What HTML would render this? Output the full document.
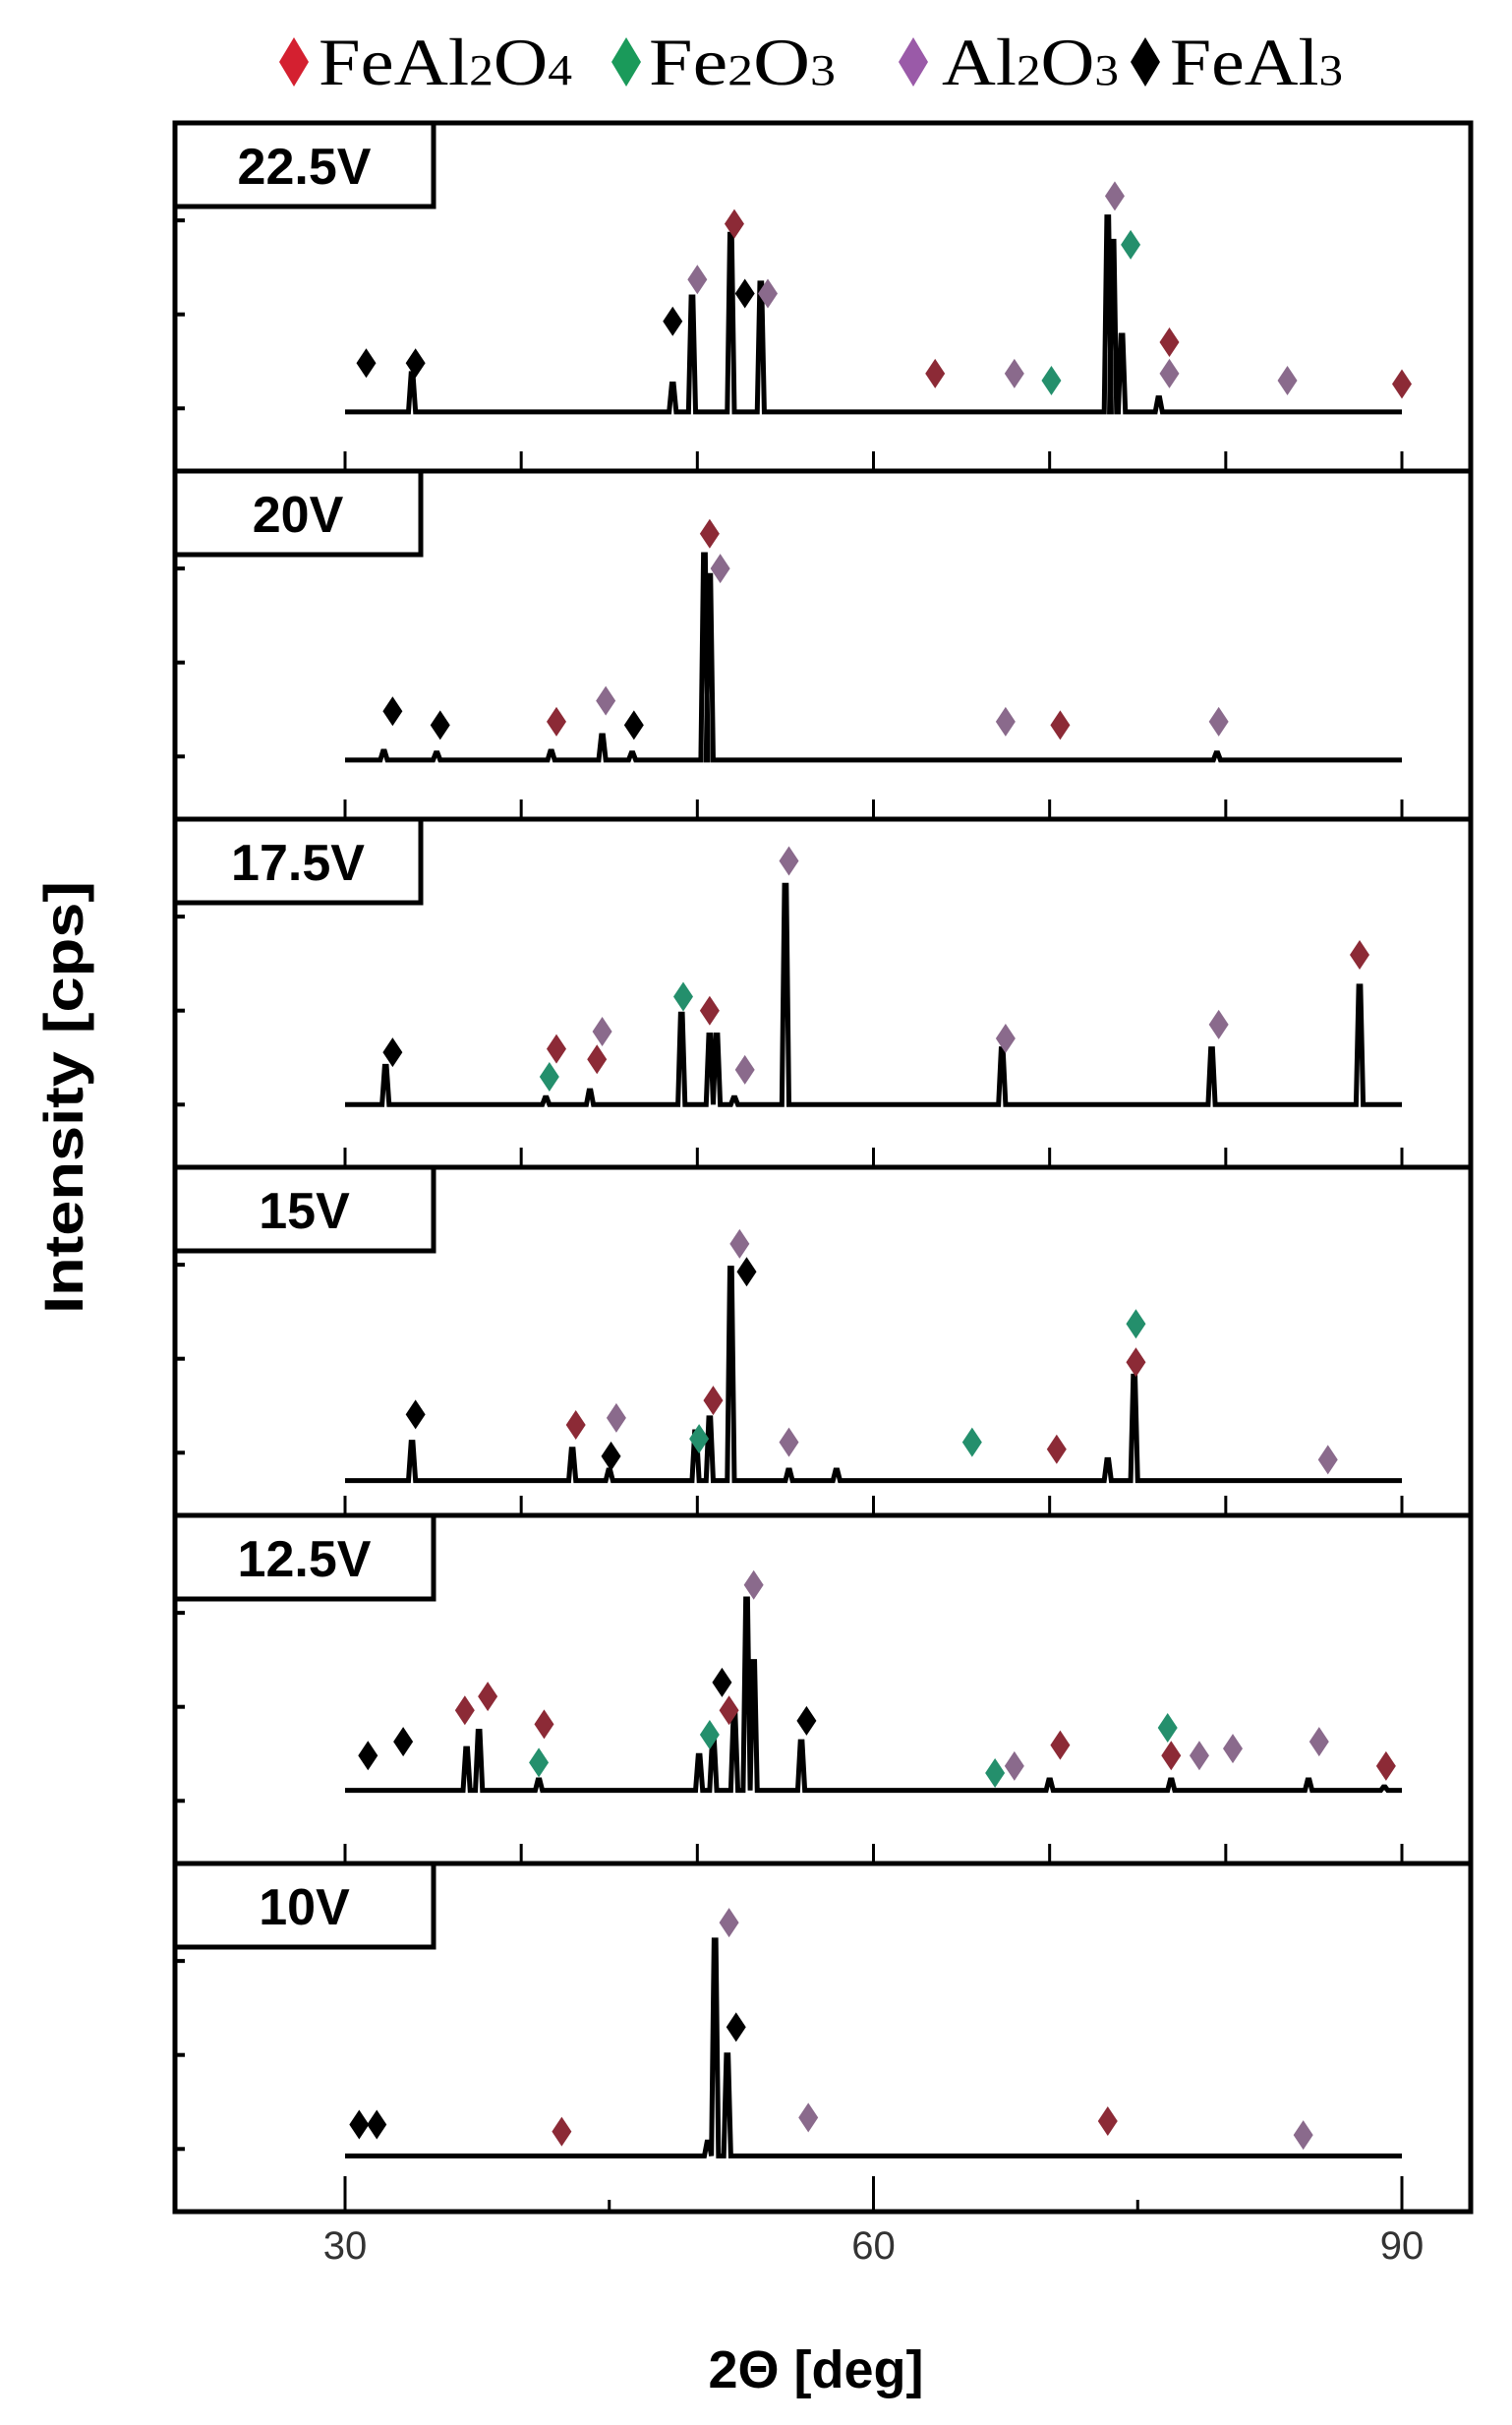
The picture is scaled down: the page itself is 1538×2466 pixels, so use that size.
<!DOCTYPE html>
<html><head><meta charset="utf-8"><style>
html,body{margin:0;padding:0;background:#fff;}
svg{display:block;}
</style></head><body>
<svg id="chart" width="1538" height="2466" viewBox="0 0 1538 2466" xmlns="http://www.w3.org/2000/svg">
<g id="legend" font-family="'Liberation Serif', serif" font-size="68">
  <g><path d="M299 38 L314 63 L299 88 L284 63 Z" fill="#d42030"/><text x="324" y="86" textLength="258" lengthAdjust="spacingAndGlyphs">FeAl<tspan font-size="44">2</tspan>O<tspan font-size="44">4</tspan></text></g>
  <g><path d="M637 38 L652 63 L637 88 L622 63 Z" fill="#1a9a5a"/><text x="660" y="86" textLength="190" lengthAdjust="spacingAndGlyphs">Fe<tspan font-size="44">2</tspan>O<tspan font-size="44">3</tspan></text></g>
  <g><path d="M929 38 L944 63 L929 88 L914 63 Z" fill="#9a5aa8"/><text x="958" y="86" textLength="180" lengthAdjust="spacingAndGlyphs">Al<tspan font-size="44">2</tspan>O<tspan font-size="44">3</tspan></text></g>
  <g><path d="M1165 38 L1180 63 L1165 88 L1150 63 Z" fill="#000"/><text x="1190" y="86" textLength="176" lengthAdjust="spacingAndGlyphs">FeAl<tspan font-size="44">3</tspan></text></g>
</g>
<text transform="translate(84,1116) rotate(-90)" text-anchor="middle" font-family="'Liberation Sans', sans-serif" font-weight="bold" font-size="56" textLength="440" lengthAdjust="spacingAndGlyphs">Intensity [cps]</text>
<text x="830" y="2428" text-anchor="middle" font-family="'Liberation Sans', sans-serif" font-weight="bold" font-size="54">2Θ [deg]</text>
<g id="panels"></g>
</svg>
<script>
const panelLabels = ["22.5V","20V","17.5V","15V","12.5V","10V"];
const baselines = [17,17,18,10,21,16];
// peaks: [2theta, intensity % of panel height]
const peaks225 = [[33.8,28],[48.6,25],[49.7,50],[51.9,68],[53.6,54],[73.3,73],[73.6,66],[74.1,39],[76.2,21]];
const peaks20 = [[32.2,19.5],[35.2,19],[41.7,19.5],[44.6,24],[46.3,19],[50.4,76],[50.7,70],[79.5,19]];
const peaks175 = [[32.3,29],[41.4,20],[43.9,22],[49.1,44],[50.7,38],[51.1,38],[52.1,20],[55.0,81],[67.3,34],[79.2,34],[87.6,52]];
const peaks15 = [[33.8,21],[42.9,19],[45.0,13],[49.9,24],[50.7,28],[51.9,71],[55.2,13],[57.9,13],[73.3,16],[74.8,40]];
const peaks125 = [[36.9,33],[37.6,38],[41.0,24],[50.1,31],[50.9,36],[52.1,43],[52.8,76],[53.2,58],[55.9,35],[70.0,24],[76.9,24],[84.7,24],[89.0,22]];
const peaks10 = [[50.6,20],[51.0,78],[51.7,45]];
const allPeaks = [peaks225,peaks20,peaks175,peaks15,peaks125,peaks10];
// markers: [2theta, height %, phase]
const markers225 = [[31.2,31,"k"],[34,31,"k"],[48.6,43,"k"],[50.0,55,"p"],[52.1,71,"r"],[52.7,51,"k"],[54.0,51,"p"],[63.5,28,"r"],[68.0,28,"p"],[70.1,26,"g"],[73.7,79,"p"],[74.6,65,"g"],[76.8,37,"r"],[76.8,28,"p"],[83.5,26,"p"],[90,25,"r"]];
const markers20 = [[32.7,31,"k"],[35.4,27,"k"],[42,28,"r"],[44.8,34,"p"],[46.4,27,"k"],[50.7,82,"r"],[51.3,72,"p"],[67.5,28,"p"],[70.6,27,"r"],[79.6,28,"p"]];
const markers175 = [[32.7,33,"k"],[42.0,34,"r"],[41.6,26,"g"],[44.6,39,"p"],[44.3,31,"r"],[49.2,49,"g"],[50.7,45,"r"],[52.7,28,"p"],[55.2,88,"p"],[67.5,37,"p"],[79.6,41,"p"],[87.6,61,"r"]];
const markers15 = [[34,29,"k"],[43.1,26,"r"],[45.4,28,"p"],[45.1,17,"k"],[50.9,33,"r"],[50.1,22,"g"],[52.4,78,"p"],[52.8,70,"k"],[55.2,21,"p"],[65.6,21,"g"],[70.4,19,"r"],[74.9,55,"g"],[74.9,44,"r"],[85.8,16,"p"]];
const markers125 = [[31.3,31,"k"],[33.3,35,"k"],[36.8,44,"r"],[38.1,48,"r"],[41.3,40,"r"],[41.0,29,"g"],[51.4,52,"k"],[51.8,44,"r"],[50.7,37,"g"],[53.2,80,"p"],[56.2,41,"k"],[66.9,26,"g"],[68.0,28,"p"],[70.6,34,"r"],[76.7,39,"g"],[76.9,31,"r"],[78.5,31,"p"],[80.4,33,"p"],[85.3,35,"p"],[89.1,28,"r"]];
const markers10 = [[30.8,25,"k"],[31.8,25,"k"],[42.3,23,"r"],[51.8,83,"p"],[52.2,53,"k"],[56.3,27,"p"],[73.3,26,"r"],[84.4,22,"p"]];
const allMarkers = [markers225,markers20,markers175,markers15,markers125,markers10];
const xTicks = [30,40,50,60,70,80,90];
const xTickLabels = ["30","60","90"];

const NS="http://www.w3.org/2000/svg";
const L=178,R=1496,TOP=125,PH=354;
const xs = d => 351 + (d-30)*(1426-351)/60;
const colors={r:"#8c2a36",g:"#248f6c",p:"#8a6a8c",k:"#000"};
function mk(tag,attrs,parent){const e=document.createElementNS(NS,tag);for(const k in attrs)e.setAttribute(k,attrs[k]);parent.appendChild(e);return e;}
const root=document.getElementById('panels');
panelLabels.forEach((lab,i)=>{
  const top=TOP+i*PH, bot=top+PH;
  const ys = v => bot - PH*v/100;
  const g=mk('g',{},root);
  
  
  const fr=mk('rect',{x:L,y:top,width:R-L,height:PH,fill:'none',stroke:'#000','stroke-width':5},g);
  
  
  xTicks.forEach(t=>{
    if(i===5 && t%30!==0) return;
    const len = (i===5)? 36 : 20;
    const tk=mk('line',{x1:xs(t),x2:xs(t),y1:bot,y2:bot-len,stroke:'#000','stroke-width':3},g);
    
    
  });
  if(i===5){[45,75].forEach(t=>{const tk=mk('line',{x1:xs(t),x2:xs(t),y1:bot,y2:bot-12,stroke:'#000','stroke-width':3},g);
    
    });}
  [0.18,0.45,0.72].forEach(f=>{const tk=mk('line',{x1:L,x2:L+10,y1:bot-PH*f,y2:bot-PH*f,stroke:'#000','stroke-width':4},g);
    
    });
  const bw=(i===1||i===2)?250:263;
  const bx=mk('rect',{x:L,y:top,width:bw,height:85,fill:'#fff',stroke:'#000','stroke-width':5},g);
  
  
  const tx=mk('text',{x:L+bw/2,y:top+62,'text-anchor':'middle','font-family':"'Liberation Sans', sans-serif",'font-weight':'bold','font-size':52},g);
  tx.textContent=lab;
  
  
  const b=baselines[i];
  const pk=allPeaks[i].slice().sort((a,c)=>a[0]-c[0]);
  let d='M'+xs(30)+' '+ys(b);
  pk.forEach(([p,v])=>{d+=' L'+xs(p-0.2)+' '+ys(b)+' L'+xs(p-0.05)+' '+ys(v)+' L'+xs(p+0.05)+' '+ys(v)+' L'+xs(p+0.2)+' '+ys(b);});
  d+=' L'+xs(90)+' '+ys(b);
  const sp=mk('path',{d:d,fill:'none',stroke:'#000','stroke-width':5,'stroke-linejoin':'miter'},g);
  
  
  allMarkers[i].forEach(([p,v,c])=>{
    const x=xs(p),y=ys(v);
    const m=mk('path',{d:`M${x} ${y-15} L${x+10} ${y} L${x} ${y+15} L${x-10} ${y} Z`,fill:colors[c]},g);
    
    
  });
});
const lastBot=TOP+6*PH;
xTickLabels.forEach(t=>{
  const tl=mk('text',{x:xs(+t),y:lastBot+48,'text-anchor':'middle','font-family':"'Liberation Sans', sans-serif",'font-size':40,fill:'#333'},root);
  tl.textContent=t;
  
  
});
</script>
</body></html>
